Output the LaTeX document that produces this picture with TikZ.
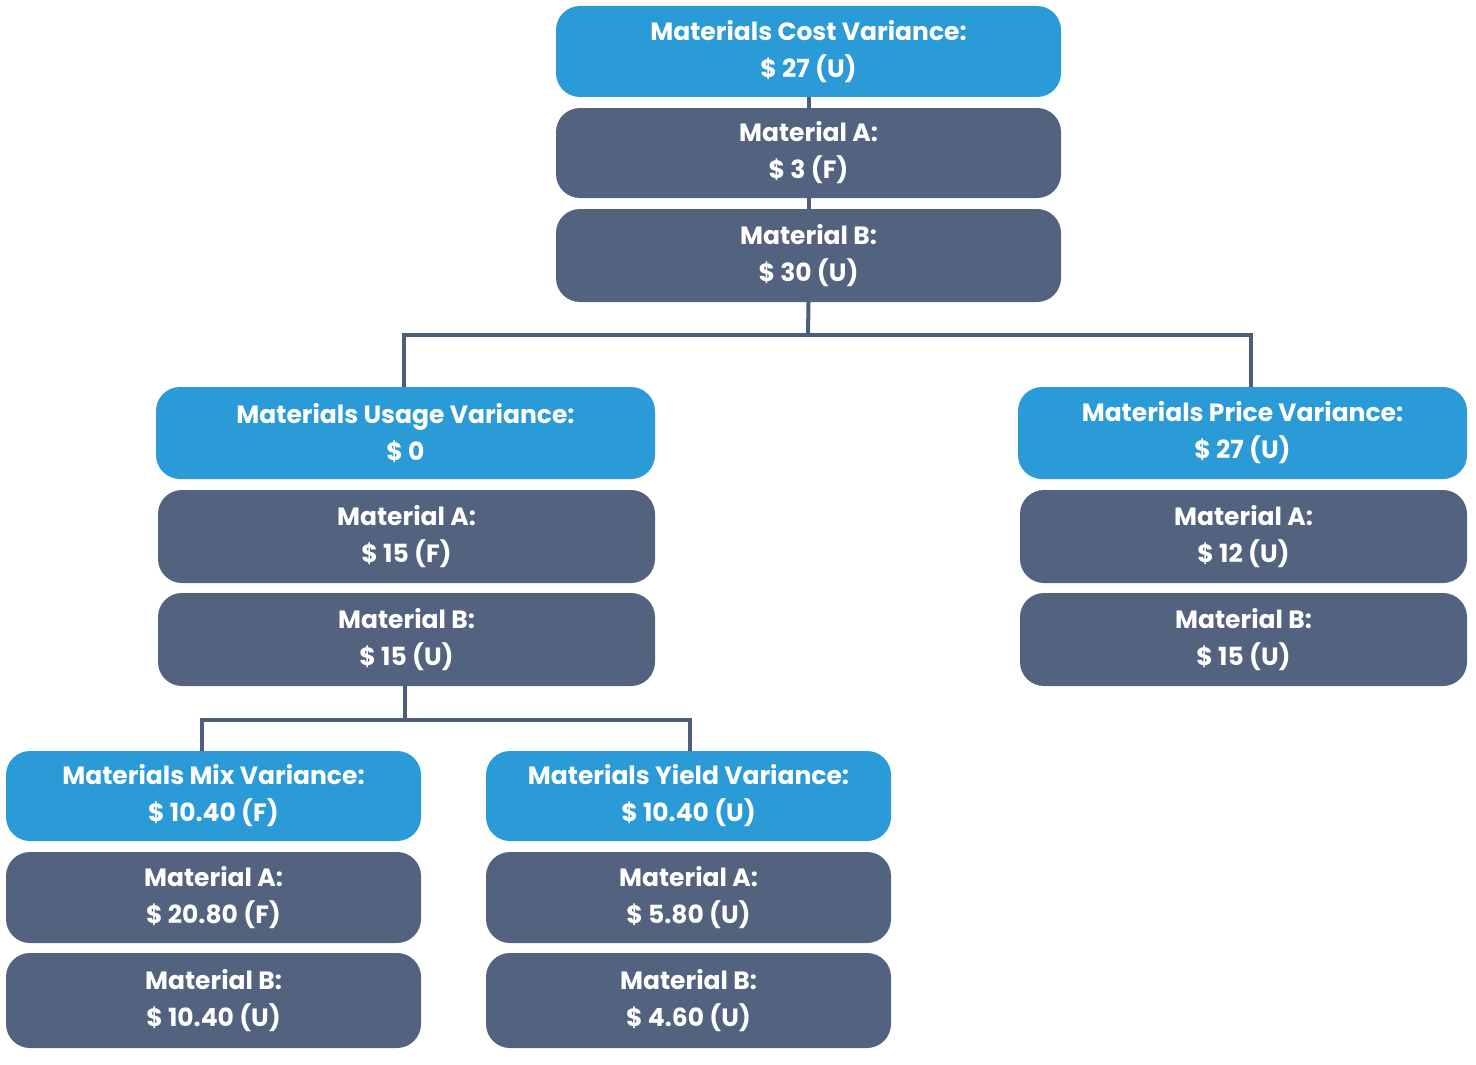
\documentclass[tikz,border=0pt]{standalone}
\usepackage{fontspec}
\setmainfont{Poppins}
\definecolor{hb}{HTML}{2A9BD6}
\definecolor{db}{HTML}{52627F}
\definecolor{ln}{HTML}{4E5D78}
\begin{document}
\begin{tikzpicture}[x=1pt,y=-1pt,
 box/.style={rounded corners=24pt,inner sep=0pt,text=white,align=center,font=\fontsize{25}{37}\selectfont\bfseries},
 hb/.style={box,fill=hb},
 db/.style={box,fill=db},
 ln/.style={draw=ln,line width=4pt}]
\useasboundingbox (0,0) rectangle (1476,1065);
\newcommand\bx[7]{\node[#1,minimum width={#4-#3},minimum height={#6-#5}] (#2) at ({(#3+#4)/2},{(#5+#6)/2}) {#7};}
% top
\bx{hb}{t}{556}{1061}{6}{97}{Materials Cost Variance:\\\$ 27 (U)}
\bx{db}{ta}{556}{1061}{108}{198}{Material A:\\\$ 3 (F)}
\bx{db}{tb}{556}{1061}{209}{302}{Material B:\\\$ 30 (U)}
% left
\bx{hb}{u}{156}{655}{387}{479}{Materials Usage Variance:\\\$ 0}
\bx{db}{ua}{158}{655}{490}{583}{Material A:\\\$ 15 (F)}
\bx{db}{ub}{158}{655}{593}{686}{Material B:\\\$ 15 (U)}
% right
\bx{hb}{p}{1018}{1467}{387}{479}{Materials Price Variance:\\\$ 27 (U)}
\bx{db}{pa}{1020}{1467}{490}{583}{Material A:\\\$ 12 (U)}
\bx{db}{pb}{1020}{1467}{593}{686}{Material B:\\\$ 15 (U)}
% bottom left
\bx{hb}{m}{6}{421}{751}{841}{Materials Mix Variance:\\\$ 10.40 (F)}
\bx{db}{ma}{6}{421}{852}{943}{Material A:\\\$ 20.80 (F)}
\bx{db}{mb}{6}{421}{953}{1048}{Material B:\\\$ 10.40 (U)}
% bottom right
\bx{hb}{y}{486}{891}{751}{841}{Materials Yield Variance:\\\$ 10.40 (U)}
\bx{db}{ya}{486}{891}{852}{943}{Material A:\\\$ 5.80 (U)}
\bx{db}{yb}{486}{891}{953}{1048}{Material B:\\\$ 4.60 (U)}
% connectors
\coordinate (j1) at (808,335);
\coordinate (j2) at (405,720);
\begin{scope}[on background layer/.try]
\end{scope}
\draw[ln] (t.south) -- (ta.north);
\draw[ln] (ta.south) -- (tb.north);
\draw[ln] (tb.south) -- (j1);
\draw[ln] (j1) -| (404,387) (j1) -| (1251,387);
\draw[ln] (405,686) -- (j2);
\draw[ln] (j2) -| (202,751) (j2) -| (690,751);
\end{tikzpicture}
\end{document}
